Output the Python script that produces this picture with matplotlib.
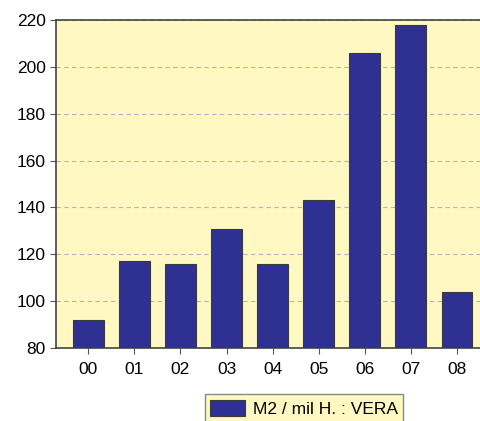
import matplotlib.pyplot as plt
import numpy as np

plt.rcParams['font.family'] = ['Liberation Sans', 'DejaVu Sans']

years = ['00', '01', '02', '03', '04', '05', '06', '07', '08']
m2_vera = [92, 117, 116, 131, 116, 143, 206, 218, 104]

fig = plt.figure(figsize=(4.81, 4.21), dpi=100)
ax = fig.add_axes([0.1164, 0.1734, 0.8836, 0.7791])
ax.set_facecolor('#fff8c2')

x = np.arange(len(years))
ax.bar(x, m2_vera, width=0.67, bottom=0, color='#2e3192', edgecolor='#3a3a3a',
       linewidth=0.8, label='M2 / mil H. : VERA', zorder=3)

ax.set_ylim(80, 220)
ax.set_yticks(range(80, 221, 20))
ax.set_xlim(-0.7, 8.52)
ax.set_xticks(x)
ax.set_xticklabels(years)
ax.yaxis.grid(True, linestyle=(0, (4, 3)), color='#b5b5b5', linewidth=0.8, zorder=0)
ax.tick_params(axis='both', labelsize=12.5, length=4, color='#555555')
ax.tick_params(axis='x', length=4, pad=6)

for side in ['top', 'left', 'bottom']:
    ax.spines[side].set_color('#444444')
    ax.spines[side].set_linewidth(1.2)
ax.spines['right'].set_visible(False)

fig.legend(loc='upper center', bbox_to_anchor=(0.632, 0.063), fontsize=12.5,
           facecolor='#fff8c2', edgecolor='#888888', framealpha=1, fancybox=False,
           handlelength=2.0, handleheight=1.1, borderpad=0.3, handletextpad=0.5,
           borderaxespad=0)

fig.savefig('out.png', dpi=100)
